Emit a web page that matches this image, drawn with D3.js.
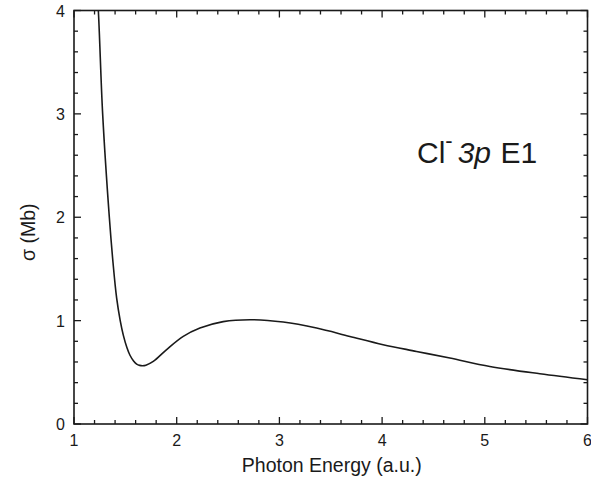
<!DOCTYPE html>
<html>
<head>
<meta charset="utf-8">
<script src="https://cdn.jsdelivr.net/npm/d3@7"></script>
<style>
  html, body { margin: 0; padding: 0; background: #fff; }
  svg { display: block; font-family: Arial, "Liberation Sans", sans-serif; }
</style>
</head>
<body>
<svg id="chart" width="591" height="478"></svg>
<script>
// Cl- 3p E1 photoionization cross section vs photon energy
const energy = [1.20, 1.237, 1.279, 1.344, 1.38, 1.415, 1.45, 1.48, 1.515, 1.545, 1.58, 1.61, 1.64, 1.668,
                1.70, 1.772, 1.902, 2.064, 2.226, 2.453, 2.713, 3.037, 3.362, 3.686, 4.01, 4.335,
                4.66, 5.049, 5.536, 6.0];
const sigma  = [4.6, 4.0, 3.0, 2.0, 1.56, 1.22, 1.0, 0.86, 0.74, 0.665, 0.61, 0.58, 0.567, 0.564,
                0.569, 0.605, 0.72, 0.847, 0.928, 0.99, 1.009, 0.986, 0.928, 0.847, 0.767, 0.702,
                0.638, 0.557, 0.486, 0.428];

const xTicks = [1, 2, 3, 4, 5, 6];
const yTicks = [0, 1, 2, 3, 4];
const xMinor = d3.range(1, 6.001, 0.2);
const yMinor = d3.range(0, 4.001, 0.2);

const margin = { left: 74, top: 10.5, right: 3.5, bottom: 54 };
const W = 591, H = 478;
const x = d3.scaleLinear().domain([1, 6]).range([margin.left, W - margin.right]);
const y = d3.scaleLinear().domain([0, 4]).range([H - margin.bottom, margin.top]);

const svg = d3.select("#chart");
const ink = "#1a1a1a";

svg.append("clipPath").attr("id", "plot-clip")
  .append("rect")
  .attr("x", x(1)).attr("y", y(4))
  .attr("width", x(6) - x(1)).attr("height", y(0) - y(4));

// curve
const line = d3.line()
  .x((d, i) => x(energy[i]))
  .y(d => y(d))
  .curve(d3.curveCatmullRom.alpha(0.5));

svg.append("path")
  .datum(sigma)
  .attr("clip-path", "url(#plot-clip)")
  .attr("fill", "none")
  .attr("stroke", ink)
  .attr("stroke-width", 1.6)
  .attr("d", line);

// ticks on all four sides, pointing inward
function isMajor(v, majors) { return majors.some(m => Math.abs(m - v) < 1e-6); }
const tickG = svg.append("g").attr("stroke", ink).attr("stroke-width", 1.3);
xMinor.forEach(v => {
  const len = isMajor(v, xTicks) ? 7 : 4;
  tickG.append("line").attr("x1", x(v)).attr("x2", x(v)).attr("y1", y(0)).attr("y2", y(0) - len);
  tickG.append("line").attr("x1", x(v)).attr("x2", x(v)).attr("y1", y(4)).attr("y2", y(4) + len);
});
yMinor.forEach(v => {
  const len = isMajor(v, yTicks) ? 7 : 4;
  tickG.append("line").attr("x1", x(1)).attr("x2", x(1) + len).attr("y1", y(v)).attr("y2", y(v));
  tickG.append("line").attr("x1", x(6)).attr("x2", x(6) - len).attr("y1", y(v)).attr("y2", y(v));
});

// frame
svg.append("rect")
  .attr("x", x(1)).attr("y", y(4))
  .attr("width", x(6) - x(1)).attr("height", y(0) - y(4))
  .attr("fill", "none").attr("stroke", ink).attr("stroke-width", 1.6);

// tick labels
svg.append("g").selectAll("text").data(xTicks).join("text")
  .attr("x", d => x(d)).attr("y", y(0) + 22)
  .attr("text-anchor", "middle")
  .attr("font-size", 16).attr("fill", ink)
  .text(d => d);

svg.append("g").selectAll("text").data(yTicks).join("text")
  .attr("x", x(1) - 9).attr("y", d => y(d) + 6)
  .attr("text-anchor", "end")
  .attr("font-size", 16).attr("fill", ink)
  .text(d => d);

// axis titles
svg.append("text")
  .attr("x", (x(1) + x(6)) / 2 + 1).attr("y", 472)
  .attr("text-anchor", "middle")
  .attr("font-size", 19.5).attr("fill", ink)
  .text("Photon Energy (a.u.)");

svg.append("text")
  .attr("transform", `translate(35, ${(y(0) + y(4)) / 2 + 15}) rotate(-90)`)
  .attr("text-anchor", "middle")
  .attr("font-size", 19.5).attr("fill", ink)
  .text("σ (Mb)");

// in-plot annotation
const ann = svg.append("text")
  .attr("x", 417).attr("y", 163)
  .attr("font-size", 30).attr("fill", ink);
ann.append("tspan").text("Cl");
ann.append("tspan").attr("dy", -15).attr("font-size", 22).text("-");
ann.append("tspan").attr("dy", 15).attr("dx", 5).attr("font-style", "italic").text("3p");
ann.append("tspan").attr("dx", 1).text(" E1");
</script>
</body>
</html>
